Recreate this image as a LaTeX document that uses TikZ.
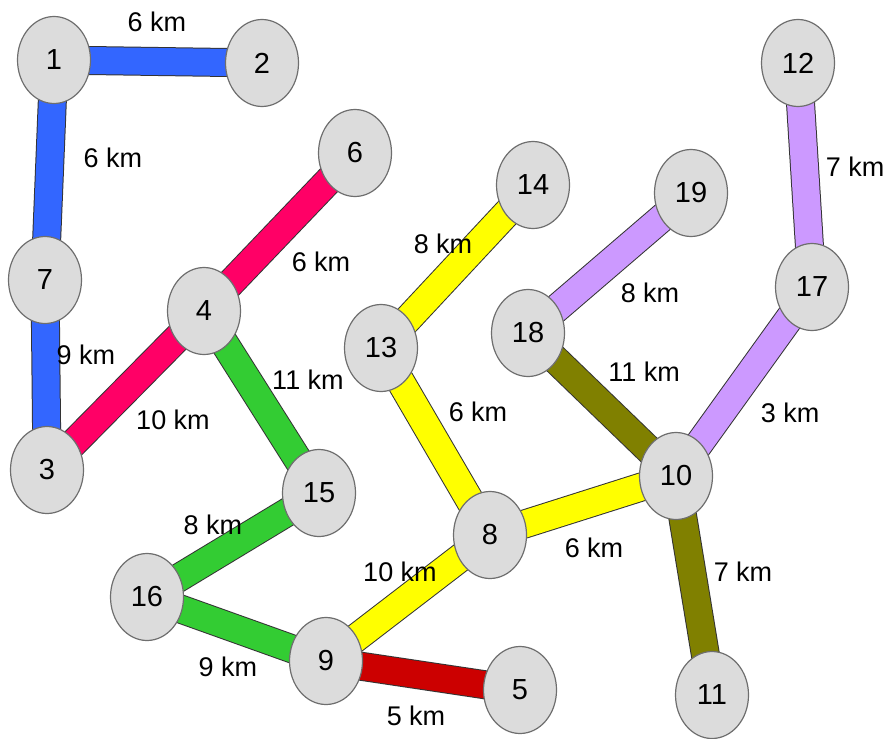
\documentclass[tikz,border=0pt]{standalone}
\usepackage{fontspec}
\setmainfont{Liberation Sans}
\usetikzlibrary{backgrounds,shapes.geometric}
\definecolor{cblue}{RGB}{51,102,255}
\definecolor{cpink}{RGB}{255,0,102}
\definecolor{cgreen}{RGB}{51,204,51}
\definecolor{cyellow}{RGB}{255,255,0}
\definecolor{cred}{RGB}{204,0,0}
\definecolor{colive}{RGB}{128,128,0}
\definecolor{clav}{RGB}{204,153,255}
\definecolor{cnode}{RGB}{220,220,220}
\definecolor{cnodeline}{RGB}{110,110,110}
\tikzset{
  city/.style={ellipse, draw=cnodeline, line width=1.2pt, fill=cnode, minimum width=73pt, minimum height=87pt, inner sep=0pt, font=\fontsize{29}{32}\selectfont},
  road/.style={draw=black!80, line width=1pt, double=#1, double distance=27pt},
  dist/.style={font=\fontsize{27}{30}\selectfont, inner sep=0pt}
}
\begin{document}
\begin{tikzpicture}[x=1pt,y=-1pt]
\useasboundingbox (0,0) rectangle (890,738);
\node[city] (n1) at (54,60) {1};
\node[city] (n2) at (262,63) {2};
\node[city] (n6) at (355,153) {6};
\node[city] (n12) at (798,63) {12};
\node[city] (n7) at (45,280) {7};
\node[city] (n14) at (533,185) {14};
\node[city] (n19) at (691,193) {19};
\node[city] (n4) at (204,311) {4};
\node[city] (n17) at (812,287) {17};
\node[city] (n18) at (528,333) {18};
\node[city] (n13) at (381,348) {13};
\node[city] (n3) at (47,470) {3};
\node[city] (n10) at (676,476) {10};
\node[city] (n15) at (319,493) {15};
\node[city] (n8) at (490,535) {8};
\node[city] (n16) at (147,597) {16};
\node[city] (n9) at (326,661) {9};
\node[city] (n5) at (520,690) {5};
\node[city] (n11) at (712,695) {11};
\begin{scope}[on background layer]
\draw[road=cblue] (n1.center) -- (n2.center);
\draw[road=cblue] (n1.center) -- (n7.center);
\draw[road=cblue] (n7.center) -- (n3.center);
\draw[road=cpink] (n3.center) -- (n4.center);
\draw[road=cpink] (n4.center) -- (n6.center);
\draw[road=cgreen] (n4.center) -- (n15.center);
\draw[road=cgreen] (n15.center) -- (n16.center);
\draw[road=cgreen] (n16.center) -- (n9.center);
\draw[road=cred] (n9.center) -- (n5.center);
\draw[road=cyellow] (n9.center) -- (n8.center);
\draw[road=cyellow] (n8.center) -- (n13.center);
\draw[road=cyellow] (n13.center) -- (n14.center);
\draw[road=cyellow] (n8.center) -- (n10.center);
\draw[road=colive] (n10.center) -- (n18.center);
\draw[road=colive] (n10.center) -- (n11.center);
\draw[road=clav] (n18.center) -- (n19.center);
\draw[road=clav] (n10.center) -- (n17.center);
\draw[road=clav] (n17.center) -- (n12.center);
\end{scope}
\node[dist] (d12) at (157,22) {6 km};
\node[dist] (d17) at (113,158) {6 km};
\node[dist] (d73) at (86,355) {9 km};
\node[dist] (d34) at (173,420) {10 km};
\node[dist] (d46) at (321,262) {6 km};
\node[dist] (d415) at (308,380) {11 km};
\node[dist] (d1516) at (213,525) {8 km};
\node[dist] (d169) at (228,667) {9 km};
\node[dist] (d95) at (416,716) {5 km};
\node[dist] (d98) at (400,572) {10 km};
\node[dist] (d813) at (478,412) {6 km};
\node[dist] (d1314) at (443,244) {8 km};
\node[dist] (d810) at (594,548) {6 km};
\node[dist] (d1018) at (644,372) {11 km};
\node[dist] (d1819) at (650,293) {8 km};
\node[dist] (d1017) at (790,413) {3 km};
\node[dist] (d1712) at (855,167) {7 km};
\node[dist] (d1011) at (743,572) {7 km};
\end{tikzpicture}
\end{document}
